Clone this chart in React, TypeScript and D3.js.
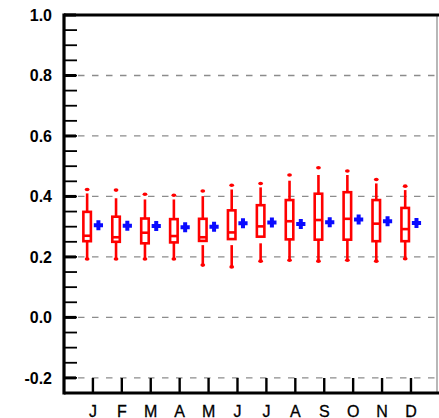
import * as d3 from 'd3';

// monthly box statistics (red) and mean marker (blue cross)
const months = ['J', 'F', 'M', 'A', 'M', 'J', 'J', 'A', 'S', 'O', 'N', 'D'];
const q3 = [0.349, 0.333, 0.327, 0.325, 0.326, 0.354, 0.371, 0.388, 0.409, 0.414, 0.388, 0.362];
const median = [0.27, 0.265, 0.28, 0.269, 0.265, 0.281, 0.301, 0.318, 0.322, 0.326, 0.31, 0.292];
const q1 = [0.252, 0.25, 0.245, 0.248, 0.253, 0.259, 0.267, 0.258, 0.257, 0.257, 0.252, 0.252];
const whiskerHi = [0.41, 0.394, 0.39, 0.39, 0.401, 0.423, 0.43, 0.452, 0.471, 0.471, 0.443, 0.421];
const maxDot = [0.423, 0.421, 0.407, 0.404, 0.418, 0.437, 0.443, 0.471, 0.495, 0.484, 0.456, 0.434];
const whiskerLoStart = [0.252, 0.25, 0.245, 0.248, 0.239, 0.239, 0.245, 0.258, 0.257, 0.257, 0.252, 0.252];
const minV = [0.193, 0.193, 0.193, 0.193, 0.173, 0.167, 0.186, 0.189, 0.186, 0.189, 0.186, 0.194];
const meanV = [0.305, 0.303, 0.302, 0.298, 0.3, 0.311, 0.314, 0.309, 0.315, 0.324, 0.318, 0.312];

const yTicks = [-0.2, 0.0, 0.2, 0.4, 0.6, 0.8, 1.0];
const gridTicks = [-0.2, 0.0, 0.2, 0.4, 0.6, 0.8];

const W = 439;
const H = 418;
const RED = '#ff0000';
const BLUE = '#0a0aff';
const FONT = "'Liberation Sans', Arial, Helvetica, sans-serif";

// hyphen minus, as in the original
const fmt = (v: number) => d3.format('.1f')(v).replace('\u2212', '-');

export default function App() {
  const x = d3.scaleLinear().domain([0, 12.9]).range([64, 437]);
  const y = d3.scaleLinear().domain([-0.25, 1.0]).range([393, 15]);
  const [x0, x1] = x.range();
  const [yb, yt] = y.range();

  const minorTicks = d3.range(-0.25, 1.0001, 0.05).map(v => +v.toFixed(2));
  const boxOff = -0.2;
  const crossOff = 0.19;
  const boxW = x(0.26) - x(0);

  return (
    <svg width={W} height={H} style={{ position: 'absolute', left: 0, top: 0, background: '#fff' }}>
      {/* dashed grid */}
      {gridTicks.map(v => (
        <line key={'g' + v} x1={x0} x2={x1} y1={y(v)} y2={y(v)}
          stroke="#8c8c8c" strokeWidth={1.3} strokeDasharray="6.5,7.5" />
      ))}

      {/* y minor ticks */}
      {minorTicks.map(v => (
        <line key={'m' + v} x1={x0} x2={x0 + 13} y1={y(v)} y2={y(v)} stroke="#000" strokeWidth={1.8} />
      ))}
      {/* y major ticks + labels */}
      {yTicks.map(v => (
        <g key={'t' + v}>
          <line x1={x0} x2={x0 + 12} y1={y(v)} y2={y(v)} stroke="#000" strokeWidth={3} />
          <text x={52} y={y(v) + 6} textAnchor="end" fontFamily={FONT} fontWeight="bold" fontSize={16}>
            {fmt(v)}
          </text>
        </g>
      ))}

      {/* x ticks + month labels */}
      {months.map((m, i) => (
        <g key={'x' + i}>
          <line x1={x(i + 1)} x2={x(i + 1)} y1={yb} y2={yb - 15} stroke="#000" strokeWidth={2.4} />
          <text x={x(i + 1)} y={416.5} textAnchor="middle" fontFamily={FONT} fontSize={16}
            stroke="#000" strokeWidth={0.3}>{m}</text>
        </g>
      ))}

      {/* boxes */}
      {months.map((m, i) => {
        const cx = x(i + 1 + boxOff);
        return (
          <g key={'b' + i} stroke={RED} fill="none" strokeWidth={2.6}>
            <line x1={cx} x2={cx} y1={y(q3[i])} y2={y(whiskerHi[i])} />
            <line x1={cx} x2={cx} y1={y(whiskerLoStart[i])} y2={y(minV[i])} />
            <rect x={cx - boxW / 2} y={y(q3[i])} width={boxW} height={y(q1[i]) - y(q3[i])} fill="#fff" />
            <line x1={cx - boxW / 2} x2={cx + boxW / 2} y1={y(median[i])} y2={y(median[i])} />
            <ellipse cx={cx} cy={y(maxDot[i])} rx={2.4} ry={1.8} fill={RED} stroke="none" />
            <ellipse cx={cx} cy={y(minV[i])} rx={2.4} ry={1.8} fill={RED} stroke="none" />
          </g>
        );
      })}

      {/* mean crosses */}
      {months.map((m, i) => {
        const cx = x(i + 1 + crossOff);
        const cy = y(meanV[i]);
        return (
          <path key={'c' + i} d={`M${cx - 4.6},${cy}H${cx + 4.6}M${cx},${cy - 5}V${cy + 5}`}
            stroke={BLUE} strokeWidth={4} fill="none" />
        );
      })}

      {/* frame */}
      <line x1={x1} x2={x1} y1={yt} y2={yb} stroke="#888" strokeWidth={1.2} />
      <line x1={x0} x2={x1 + 2} y1={yt} y2={yt} stroke="#000" strokeWidth={3.2} />
      <line x1={x0} x2={W} y1={yb} y2={yb} stroke="#000" strokeWidth={3.2} />
      <line x1={x0} x2={x0} y1={yt - 1.6} y2={yb + 1.6} stroke="#000" strokeWidth={3.2} />
    </svg>
  );
}
